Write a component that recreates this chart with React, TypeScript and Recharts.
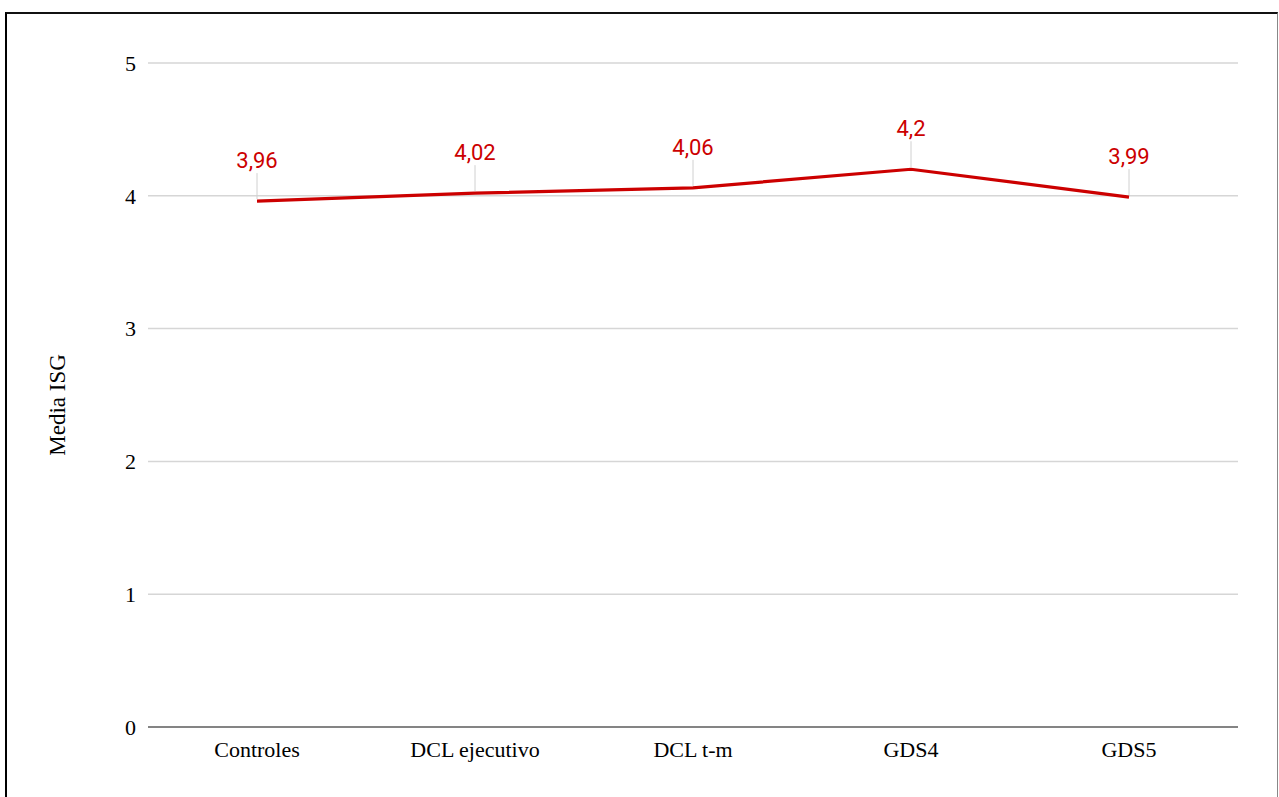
import { ComposedChart, Line, XAxis, YAxis, CartesianGrid, LabelList, Label } from 'recharts'

// Media ISG por grupo
const GROUPS = ['Controles', 'DCL ejecutivo', 'DCL t-m', 'GDS4', 'GDS5']
const MEANS = [3.96, 4.02, 4.06, 4.2, 3.99]
const Y_TICKS = [0, 1, 2, 3, 4, 5]

const RED = '#cc0000'
const GRID = '#d6d6d6'
const AXIS = '#666666'
const SERIF = "'Times New Roman', 'Liberation Serif', serif"

const data = GROUPS.map((group, i) => ({ group, mean: MEANS[i] }))

function PointLabel(props: any) {
  const { x, y, value } = props
  if (x == null || y == null) return null
  return (
    <g>
      <line x1={x} y1={y - 28} x2={x} y2={y - 2} stroke="#d0d0d0" strokeWidth={1} />
      <text x={x} y={y - 33} textAnchor="middle" fill={RED} fontSize={22} fontFamily="Roboto, 'Noto Sans', sans-serif">
        {String(value).replace('.', ',')}
      </text>
    </g>
  )
}

// rotated y title, placed from the axis viewBox
function YTitle(props: any) {
  const vb = props.viewBox
  if (!vb) return null
  const cx = vb.x + 50
  const cy = vb.y + vb.height / 2 + 10
  return (
    <text
      x={cx}
      y={cy}
      transform={`rotate(-90, ${cx}, ${cy})`}
      textAnchor="middle"
      dominantBaseline="central"
      fontSize={23}
      fontFamily={SERIF}
      fill="#000"
    >
      Media ISG
    </text>
  )
}

export default function App() {
  return (
    <div
      style={{
        position: 'absolute',
        left: 5,
        top: 12,
        width: 1270,
        height: 783,
        borderLeft: '2px solid #000',
        borderTop: '2px solid #111',
        borderRight: '1px solid #888',
        background: '#fff',
        overflow: 'hidden',
      }}
    >
      <ComposedChart width={1270} height={783} data={data} margin={{ top: 49, right: 39, bottom: 30, left: 0 }}>
        <CartesianGrid vertical={false} stroke={GRID} strokeWidth={1.5} />
        <XAxis
          dataKey="group"
          type="category"
          scale="band"
          height={40}
          tickLine={false}
          tickMargin={8}
          axisLine={{ stroke: AXIS, strokeWidth: 1.5 }}
          tick={{ fontSize: 22, fill: '#000', fontFamily: SERIF }}
        />
        <YAxis
          type="number"
          domain={[0, 5]}
          ticks={Y_TICKS}
          width={141}
          axisLine={false}
          tickLine={false}
          tickMargin={6}
          tick={{ fontSize: 22, fill: '#000', fontFamily: SERIF }}
        >
          <Label content={YTitle} />
        </YAxis>
        <Line
          type="linear"
          dataKey="mean"
          stroke={RED}
          strokeWidth={3.2}
          dot={false}
          activeDot={false}
          isAnimationActive={false}
        >
          <LabelList dataKey="mean" content={PointLabel} />
        </Line>
      </ComposedChart>
    </div>
  )
}
